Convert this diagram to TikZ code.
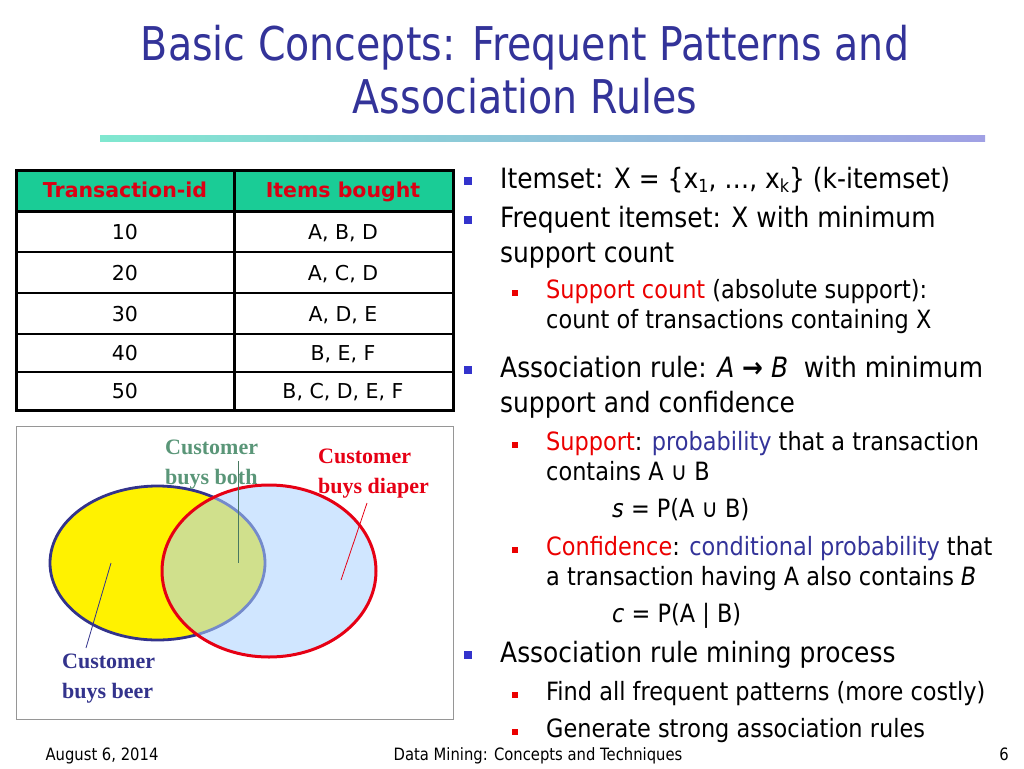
\documentclass[tikz,border=0pt]{standalone}
\usepackage{fontspec}
\setmainfont{DejaVu Sans}[FakeStretch=0.89]
\newfontfamily\titlefont{DejaVu Sans}[FakeStretch=0.85]
\newfontfamily\footfont{DejaVu Sans}[FakeStretch=0.87]
\newfontfamily\tablefont{DejaVu Sans}
\newfontfamily\vennfont{Liberation Serif}
\definecolor{titleblue}{RGB}{51,51,153}
\definecolor{ruleA}{RGB}{128,232,208}
\definecolor{ruleB}{RGB}{160,160,228}
\definecolor{headfill}{RGB}{26,204,150}
\definecolor{headred}{RGB}{220,0,20}
\definecolor{bulblue}{RGB}{51,51,204}
\definecolor{bulred}{RGB}{235,0,0}
\definecolor{txtred}{RGB}{235,0,0}
\definecolor{txtblue}{RGB}{51,51,153}
\definecolor{venngreen}{RGB}{90,150,120}
\definecolor{vennred}{RGB}{230,0,20}
\definecolor{vennblue}{RGB}{51,51,140}
\definecolor{lightfill}{RGB}{170,210,255}
\definecolor{boxgray}{RGB}{150,150,150}
\tikzset{
  txt/.style={anchor=base west, inner sep=0pt, font=\fontsize{28}{32}\selectfont},
  subtxt/.style={anchor=base west, inner sep=0pt, font=\fontsize{25.2}{28}\selectfont},
  mainbul/.style={fill=bulblue, minimum size=8pt, inner sep=0pt},
  subbul/.style={fill=bulred, minimum size=6pt, inner sep=0pt},
  cell/.style={anchor=base, inner sep=0pt, font=\tablefont\fontsize{20.5}{24}\selectfont},
  head/.style={anchor=base, inner sep=0pt, text=headred, font=\tablefont\bfseries\fontsize{20.5}{24}\selectfont},
  vlabel/.style={anchor=base west, inner sep=0pt, font=\vennfont\bfseries\fontsize{22}{24}\selectfont},
  ttl/.style={anchor=base, inner sep=0pt, text=titleblue, font=\titlefont\fontsize{46.5}{50}\selectfont},
  foot/.style={anchor=base, inner sep=0pt, font=\footfont\fontsize{17}{20}\selectfont},
}
\newcommand{\sbs}[1]{\raisebox{-0.3ex}{\fontsize{18}{18}\selectfont #1}}
\begin{document}
\begin{tikzpicture}[x=1pt,y=-1pt]
\useasboundingbox (0,0) rectangle (1024,768);
% title
\node[ttl] (t1) at (525,60) {Basic Concepts: Frequent Patterns and};
\node[ttl] (t2) at (525,113) {Association Rules};
\shade[left color=ruleA, right color=ruleB] (100,135.5) rectangle (985,141);
% table
\fill[headfill] (16,170) rectangle (453,211);
\draw[line width=1.5pt] (16,252) -- (453,252) (16,293) -- (453,293) (16,334) -- (453,334) (16,372) -- (453,372);
\draw[line width=3pt] (16,211) -- (453,211) (234,170) -- (234,410);
\draw[line width=3pt] (16,170) rectangle (453,410);
\node[head] (h1) at (125,197.5) {Transaction-id};
\node[head] (h2) at (343,197.5) {Items bought};
\node[cell] (c11) at (125,239) {10};
\node[cell] (c12) at (343,239) {A, B, D};
\node[cell] (c21) at (125,280) {20};
\node[cell] (c22) at (343,280) {A, C, D};
\node[cell] (c31) at (125,321) {30};
\node[cell] (c32) at (343,321) {A, D, E};
\node[cell] (c41) at (125,360.5) {40};
\node[cell] (c42) at (343,360.5) {B, E, F};
\node[cell] (c51) at (125,398.5) {50};
\node[cell] (c52) at (343,398.5) {B, C, D, E, F};
% venn
\draw[boxgray, line width=1pt] (16,426) rectangle (453,719);
\draw[vennblue, line width=2.8pt, fill=yellow] (157.5,563) ellipse [x radius=107.5, y radius=77];
\fill[lightfill, fill opacity=0.55] (269,571) ellipse [x radius=107, y radius=86];
\draw[vennred, line width=3pt] (269,571) ellipse [x radius=107, y radius=86];
\node[vlabel, text=venngreen] (g1) at (165,454) {Customer};
\node[vlabel, text=venngreen] (g2) at (165,484) {buys both};
\node[vlabel, text=vennred] (r1) at (318,463) {Customer};
\node[vlabel, text=vennred] (r2) at (318,493) {buys diaper};
\node[vlabel, text=vennblue] (u1) at (62,668) {Customer};
\node[vlabel, text=vennblue] (u2) at (62,698) {buys beer};
\coordinate (gA) at (238.5,461);
\coordinate (gB) at (238.5,563);
\coordinate (rA) at (367,503);
\coordinate (rB) at (341,580);
\coordinate (uA) at (111,563);
\coordinate (uB) at (86,648);
\draw[venngreen!80!black, line width=1.5pt] (gA) -- (gB);
\draw[vennred, line width=0.8pt] (rA) -- (rB);
\draw[vennblue, line width=0.8pt] (uA) -- (uB);
% bullets text
\node[mainbul] (b1) at (468,181) {};
\node[txt] (l1) at (500,188) {Itemset: X = \{x\sbs{1}, …, x\sbs{k}\} (k-itemset)};
\node[mainbul] (b2) at (468,220) {};
\node[txt] (l2) at (500,227) {Frequent itemset: X with minimum};
\node[txt] (l3) at (500,262) {support count};
\node[subbul] (s1) at (515,293) {};
\node[subtxt] (l4) at (546,298) {\textcolor{txtred}{Support count} (absolute support):};
\node[subtxt] (l5) at (546,328) {count of transactions containing X};
\node[mainbul] (b3) at (468,370) {};
\node[txt] (l6) at (500,377) {Association rule: \textit{A} {\bfseries →} \textit{B}\ \ with minimum};
\node[txt] (l7) at (500,412) {support and confidence};
\node[subbul] (s2) at (515,445) {};
\node[subtxt] (l8) at (546,450) {\textcolor{txtred}{Support}: \textcolor{txtblue}{probability} that a transaction};
\node[subtxt] (l9) at (546,480) {contains A ∪ B};
\node[subtxt] (l10) at (612,517) {\textit{s} = P(A ∪ B)};
\node[subbul] (s3) at (515,550) {};
\node[subtxt] (l11) at (546,555) {\textcolor{txtred}{Confidence}: \textcolor{txtblue}{conditional probability} that};
\node[subtxt] (l12) at (546,585) {a transaction having A also contains \textit{B}};
\node[subtxt] (l13) at (612,622) {\textit{c} = P(A | B)};
\node[mainbul] (b4) at (468,655) {};
\node[txt] (l14) at (500,662) {Association rule mining process};
\node[subbul] (s4) at (515,695) {};
\node[subtxt] (l15) at (546,700) {Find all frequent patterns (more costly)};
\node[subbul] (s5) at (515,732) {};
\node[subtxt] (l16) at (546,737) {Generate strong association rules};
% footer
\node[foot] (f1) at (102,760) {August 6, 2014};
\node[foot] (f2) at (538,760) {Data Mining: Concepts and Techniques};
\node[foot] (f3) at (1004,760) {6};
\end{tikzpicture}
\end{document}
